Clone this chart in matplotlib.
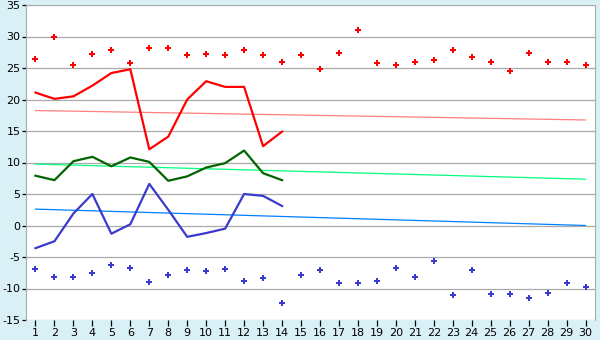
import numpy as np
import matplotlib
matplotlib.use("Agg")
import matplotlib.pyplot as plt

days = list(range(1, 31))

# daily extremes (diamonds), whole month
max_points = [26.5, 30.0, 25.4, 27.2, 27.9, 25.8, 28.2, 28.2, 27.0, 27.3,
              27.0, 27.9, 27.1, 26.0, 27.0, 24.9, 27.4, 31.0, 25.8, 25.5,
              26.0, 26.2, 27.8, 26.8, 26.0, 24.6, 27.4, 26.0, 26.0, 25.5]
min_points = [-6.9, -8.1, -8.1, -7.6, -6.3, -6.8, -8.9, -7.9, -7.1, -7.2,
              -6.9, -8.8, -8.4, -12.3, -7.9, -7.1, -9.2, -9.2, -8.8, -6.8,
              -8.1, -5.6, -11.1, -7.1, -10.8, -10.8, -11.5, -10.7, -9.2, -9.8]

# measured lines, first 14 days
line_days = list(range(1, 15))
max_line = [21.1, 20.1, 20.5, 22.2, 24.2, 24.8, 12.1, 14.1, 20.0, 22.9, 22.0, 22.0, 12.6, 14.9]
avg_line = [7.9, 7.2, 10.2, 10.9, 9.4, 10.8, 10.1, 7.1, 7.8, 9.2, 9.9, 11.9, 8.3, 7.2]
min_line = [-3.6, -2.5, 1.9, 5.0, -1.3, 0.2, 6.6, 2.5, -1.8, -1.2, -0.5, 5.0, 4.7, 3.1]

# normals (start / end of month)
trend_days = [1, 30]
max_trend = [18.25, 16.75]
avg_trend = [9.75, 7.35]
min_trend = [2.6, 0.0]

bg = "#daf0f7"
fig = plt.figure(figsize=(6, 3.4), dpi=100, facecolor=bg)
ax = fig.add_axes([26 / 600, 1 - 320 / 340, 569 / 600, 315 / 340])
ax.set_facecolor("white")

ax.plot(trend_days, max_trend, color="#ff8080", lw=0.9)
ax.plot(trend_days, avg_trend, color="#00ff80", lw=0.9)
ax.plot(trend_days, min_trend, color="#0080ff", lw=0.9)

ax.plot(line_days, max_line, color="#ff0000", lw=1.6)
ax.plot(line_days, avg_line, color="#006400", lw=1.6)
ax.plot(line_days, min_line, color="#3a3acc", lw=1.6)

ax.plot(days, max_points, ls="none", marker="P", ms=4.3, color="#ff0000", mew=0)
ax.plot(days, min_points, ls="none", marker="P", ms=4.3, color="#3a3acc", mew=0)

ax.set_xlim(0.5, 30.5)
ax.set_ylim(-15, 35)
ax.set_xticks(days)
ax.set_yticks(range(-15, 40, 5))
ax.set_yticklabels([str(v) for v in range(-15, 40, 5)])
ax.grid(axis="y", color="#aaaaaa", lw=0.9)
ax.set_axisbelow(True)
for s in ax.spines.values():
    s.set_color("#aaaaaa")
ax.spines["bottom"].set_visible(False)
ax.tick_params(axis="y", length=3, width=0.9, color="black", pad=1, labelsize=8)
ax.tick_params(axis="x", length=4, width=0.9, color="black", pad=2, labelsize=8)

fig.savefig("out.png", dpi=100, facecolor=bg)
